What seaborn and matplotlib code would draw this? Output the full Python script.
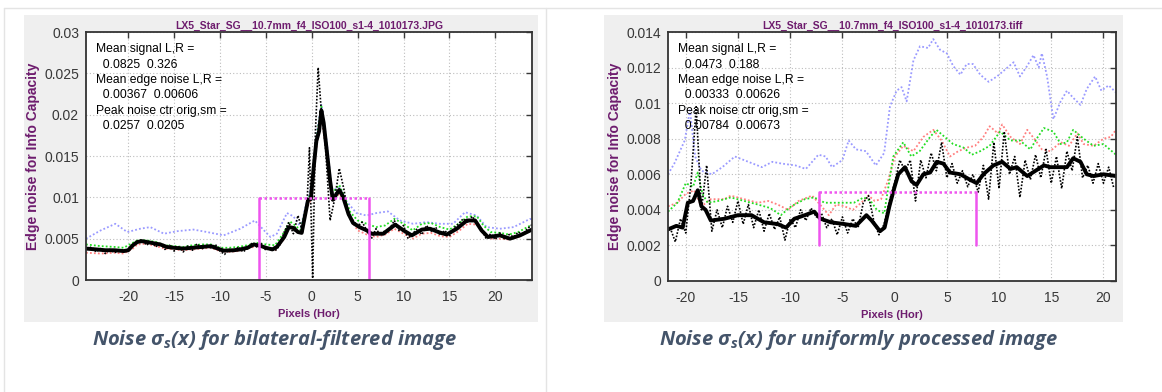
import matplotlib
matplotlib.use("Agg")
import matplotlib.pyplot as plt
from matplotlib.patches import Rectangle
from matplotlib.lines import Line2D
import seaborn as sns
import pandas as pd

# ---------------- data: left panel (bilateral-filtered JPG) ----------------
L_title = "LX5_Star_SG__10.7mm_f4_ISO100_s1-4_1010173.JPG"
L_text = ["Mean signal L,R =", "  0.0825  0.326", "Mean edge noise L,R =",
          "  0.00367  0.00606", "Peak noise ctr orig,sm =", "  0.0257  0.0205"]
L_xlim = [-24.6, 24.0]
L_ylim = [0, 0.03]
L_yticks = [0, 0.005, 0.01, 0.015, 0.02, 0.025, 0.03]
L_yticklabels = ["0", "0.005", "0.01", "0.015", "0.02", "0.025", "0.03"]
L_xticks = [-20, -15, -10, -5, 0, 5, 10, 15, 20]

L_blue_x = [-24.6, -23.0, -21.4, -20.1, -18.7, -17.6, -16.1, -14.7, -12.9, -11.4, -9.6, -7.8,
            -6.2, -5.2, -4.5, -3.8, -2.7, -2.0, -1.2, -0.6, 0.0, 0.5, 1.05, 1.6, 2.2, 3.05, 3.8,
            4.87, 5.96, 7.05, 8.3, 9.6, 11.05, 12.5, 13.96, 15.4, 16.7, 17.96, 19.05, 20.5, 22.0, 23.8, 24.0]
L_blue_y = [0.0050, 0.0060, 0.0068, 0.0058, 0.0062, 0.0064, 0.0056, 0.0059, 0.0061, 0.0058, 0.0054, 0.0062,
            0.0072, 0.0060, 0.0052, 0.0056, 0.0081, 0.0077, 0.0064, 0.0092, 0.0115, 0.0175, 0.0212, 0.0170, 0.0108, 0.0112, 0.0095,
            0.0081, 0.0078, 0.0081, 0.0083, 0.0072, 0.0068, 0.0070, 0.0068, 0.0068, 0.0082, 0.0078, 0.0064, 0.0062, 0.0064, 0.0074, 0.0073]

L_green_x = [-24.6, -23.0, -21.5, -20.5, -19.5, -19.0, -18.0, -17.0, -16.0, -15.0, -14.0, -13.0, -12.0, -11.0,
             -10.0, -9.0, -8.0, -7.0, -6.0, -5.0, -4.0, -3.0, -2.4, -1.8, -1.2, -0.6, 0.0, 0.5, 1.05, 1.6,
             2.2, 3.0, 3.6, 4.2, 5.0, 6.0, 7.0, 8.0, 9.0, 10.0, 11.0, 12.0, 13.0, 14.0, 15.0, 16.0, 17.0,
             18.0, 18.7, 19.5, 20.5, 21.5, 22.5, 23.5, 24.0]
L_green_y = [0.0043, 0.0041, 0.0040, 0.0039, 0.0045, 0.0048, 0.0048, 0.0046, 0.0042, 0.0041, 0.0040, 0.0042, 0.0043, 0.0043,
             0.0039, 0.0039, 0.0040, 0.0042, 0.0045, 0.0043, 0.0042, 0.0058, 0.0071, 0.0066, 0.0060, 0.0090, 0.0110, 0.0170, 0.0210, 0.0165,
             0.0105, 0.0115, 0.0100, 0.0082, 0.0072, 0.0068, 0.0064, 0.0066, 0.0074, 0.0068, 0.0060, 0.0068, 0.0069, 0.0064, 0.0061, 0.0068, 0.0077,
             0.0077, 0.0066, 0.0058, 0.0057, 0.0055, 0.0058, 0.0064, 0.0067]

L_red_x = L_green_x
L_red_y = [0.0033, 0.0032, 0.0033, 0.0032, 0.0038, 0.0043, 0.0044, 0.0041, 0.0038, 0.0037, 0.0036, 0.0037, 0.0038, 0.0039,
           0.0035, 0.0034, 0.0035, 0.0038, 0.0041, 0.0038, 0.0036, 0.0050, 0.0066, 0.0062, 0.0056, 0.0085, 0.0100, 0.0160, 0.0198, 0.0155,
           0.0097, 0.0104, 0.0095, 0.0074, 0.0060, 0.0055, 0.0052, 0.0055, 0.0062, 0.0056, 0.0050, 0.0056, 0.0057, 0.0053, 0.0052, 0.0059, 0.0068,
           0.0067, 0.0056, 0.0050, 0.0050, 0.0049, 0.0052, 0.0058, 0.0060]

L_raw_x = [-24.5, -24.0, -23.5, -23.0, -22.5, -22.0, -21.5, -21.0, -20.5, -20.0, -19.5, -19.0, -18.5, -18.0,
           -17.5, -17.0, -16.5, -16.0, -15.5, -15.0, -14.5, -14.0, -13.5, -13.0, -12.5, -12.0, -11.5, -11.0,
           -10.5, -10.0, -9.5, -9.0, -8.5, -8.0, -7.5, -7.0, -6.5, -6.0, -5.5, -5.0, -4.5, -4.0, -3.5, -3.0,
           -2.5, -2.0, -1.5, -1.0, -0.5, -0.25, 0.1, 0.4, 0.7, 1.0, 1.5, 2.0, 2.5, 3.0, 3.5, 4.0, 4.5, 5.0,
           5.5, 6.0, 6.5, 7.0, 7.5, 8.0, 8.5, 9.0, 9.5, 10.0, 10.5, 11.0, 11.5, 12.0, 12.5, 13.0, 13.5, 14.0,
           14.5, 15.0, 15.5, 16.0, 16.5, 17.0, 17.5, 18.0, 18.5, 19.0, 19.5, 20.0, 20.5, 21.0, 21.5, 22.0,
           22.5, 23.0, 23.5, 24.0]
L_raw_y = [0.0037, 0.0040, 0.0034, 0.0038, 0.0032, 0.0037, 0.0033, 0.0036, 0.0034, 0.0036, 0.0041, 0.0046, 0.0049, 0.0042,
           0.0047, 0.0040, 0.0045, 0.0037, 0.0042, 0.0035, 0.0040, 0.0034, 0.0041, 0.0036, 0.0044, 0.0037, 0.0042, 0.0039,
           0.0043, 0.0035, 0.0031, 0.0037, 0.0034, 0.0040, 0.0034, 0.0038, 0.0045, 0.0040, 0.0044, 0.0036, 0.0039, 0.0035, 0.0042, 0.0058,
           0.0070, 0.0056, 0.0078, 0.0058, 0.0095, 0.0160, 0.0002, 0.0180, 0.0257, 0.0210, 0.0160, 0.0072, 0.0098, 0.0135, 0.0110, 0.0078, 0.0072, 0.0065,
           0.0070, 0.0060, 0.0050, 0.0062, 0.0054, 0.0060, 0.0062, 0.0072, 0.0060, 0.0066, 0.0050, 0.0056, 0.0062, 0.0055, 0.0066, 0.0059, 0.0064, 0.0054,
           0.0060, 0.0053, 0.0063, 0.0068, 0.0074, 0.0070, 0.0077, 0.0068, 0.0062, 0.0050, 0.0056, 0.0049, 0.0057, 0.0050, 0.0055, 0.0052,
           0.0058, 0.0055, 0.0062, 0.0067]

L_smooth_x = [-24.6, -23.5, -22.5, -21.5, -20.5, -20.0, -19.5, -19.0, -18.5, -18.0, -17.5, -16.5, -15.8, -15.0,
              -14.0, -13.0, -12.0, -11.0, -10.5, -9.6, -8.5, -7.8, -7.0, -6.3, -5.5, -5.0, -4.3, -3.8, -3.0,
              -2.5, -2.0, -1.5, -1.1, -0.7, -0.4, -0.1, 0.2, 0.5, 0.8, 1.05, 1.3, 1.6, 2.0, 2.3, 2.7, 3.0,
              3.4, 4.0, 4.5, 5.2, 6.0, 6.5, 7.8, 8.5, 9.1, 10.0, 10.9, 12.0, 12.9, 13.8, 14.7, 15.8, 16.9,
              17.8, 18.5, 19.2, 20.5, 21.6, 22.7, 24.0]
L_smooth_y = [0.0038, 0.0037, 0.0036, 0.0036, 0.0035, 0.0036, 0.0042, 0.0046, 0.0047, 0.0046, 0.0045, 0.0043, 0.0040, 0.0039,
              0.0038, 0.0039, 0.0040, 0.0041, 0.0039, 0.00355, 0.0036, 0.0037, 0.0039, 0.0043, 0.0041, 0.0039, 0.0037, 0.0040, 0.0052,
              0.0064, 0.0063, 0.0058, 0.0057, 0.0080, 0.0097, 0.0098, 0.0135, 0.0168, 0.0180, 0.0205, 0.0190, 0.0160, 0.0120, 0.0097, 0.0104, 0.0109,
              0.0101, 0.0080, 0.0069, 0.0064, 0.0060, 0.0056, 0.0056, 0.0062, 0.0067, 0.0060, 0.0054, 0.0061, 0.0062, 0.0058, 0.0055, 0.0062, 0.0072,
              0.0072, 0.0060, 0.0052, 0.0054, 0.0050, 0.0054, 0.0061]

L_box_x = [-5.8, 6.2]
L_box_y = [0, 0.0099]

# ---------------- data: right panel (uniformly processed TIFF) ----------------
R_title = "LX5_Star_SG__10.7mm_f4_ISO100_s1-4_1010173.tiff"
R_text = ["Mean signal L,R =", "  0.0473  0.188", "Mean edge noise L,R =",
          "  0.00333  0.00626", "Peak noise ctr orig,sm =", "  0.00784  0.00673"]
R_xlim = [-21.7, 21.2]
R_ylim = [0, 0.014]
R_yticks = [0, 0.002, 0.004, 0.006, 0.008, 0.01, 0.012, 0.014]
R_yticklabels = ["0", "0.002", "0.004", "0.006", "0.008", "0.01", "0.012", "0.014"]
R_xticks = [-20, -15, -10, -5, 0, 5, 10, 15, 20]

R_blue_x = [-21.7, -21.1, -20.1, -19.6, -19.1, -18.5, -17.5, -16.5, -15.3, -14.0, -12.7, -11.7, -10.8, -9.5,
            -8.5, -7.3, -6.6, -6.0, -5.0, -4.4, -3.7, -2.75, -1.8, -1.0, -0.45, 0.19, 0.67, 1.15, 1.8, 2.43,
            3.2, 3.7, 4.35, 5.0, 5.6, 6.3, 6.9, 7.5, 8.2, 9.0, 9.8, 10.6, 11.4, 12.0, 12.7, 13.3, 13.8, 14.1,
            14.6, 15.2, 15.9, 16.5, 17.1, 17.8, 18.4, 19.2, 19.8, 20.5, 21.2]
R_blue_y = [0.0060, 0.0066, 0.0079, 0.0096, 0.0070, 0.0062, 0.0060, 0.0064, 0.0070, 0.0067, 0.0064, 0.0067, 0.0066, 0.0065,
            0.0063, 0.0071, 0.0070, 0.0064, 0.0068, 0.0079, 0.0074, 0.0073, 0.0065, 0.0072, 0.0098, 0.0107, 0.0109, 0.0101, 0.0124, 0.0132,
            0.0131, 0.0136, 0.0130, 0.0128, 0.0121, 0.0116, 0.0122, 0.0122, 0.0116, 0.0112, 0.0115, 0.0119, 0.0123, 0.0115, 0.0121, 0.0127, 0.0120, 0.0128,
            0.0115, 0.0091, 0.0101, 0.0107, 0.0103, 0.0099, 0.0108, 0.0115, 0.0107, 0.0110, 0.0106]

R_green_x = [-21.7, -20.8, -20.0, -19.3, -18.85, -18.4, -17.9, -16.9, -15.7, -14.4, -13.1, -11.9, -10.9, -9.9,
             -8.6, -7.7, -6.7, -5.8, -4.8, -3.9, -2.95, -2.3, -1.7, -1.0, -0.13, 0.83, 1.6, 2.4, 3.4, 4.0,
             4.8, 5.6, 6.6, 7.4, 8.2, 9.1, 10.1, 11.1, 12.0, 13.0, 13.6, 14.3, 15.2, 15.9, 16.5, 17.1, 18.1,
             19.05, 20.0, 21.2]
R_green_y = [0.0039, 0.0044, 0.0055, 0.0053, 0.0061, 0.0049, 0.0044, 0.0045, 0.0047, 0.0045, 0.0043, 0.0041, 0.0037, 0.0042,
             0.0046, 0.0047, 0.0044, 0.0044, 0.0044, 0.0044, 0.0047, 0.0045, 0.0040, 0.0038, 0.0070, 0.0078, 0.0070, 0.0073, 0.0081, 0.0085,
             0.0081, 0.0077, 0.0075, 0.0071, 0.0073, 0.0076, 0.0084, 0.0079, 0.0079, 0.0074, 0.0080, 0.0086, 0.0084, 0.0077, 0.0078, 0.0085, 0.0080,
             0.0076, 0.0077, 0.0071]

R_red_x = [-21.7, -20.8, -20.0, -19.2, -18.5, -17.6, -16.3, -15.7, -14.4, -13.1, -12.1, -11.2, -10.2, -9.2,
           -7.9, -7.0, -6.3, -5.6, -4.8, -4.0, -3.2, -2.5, -1.9, -1.3, -0.6, 0.03, 0.83, 1.8, 2.75, 3.7,
           4.5, 5.3, 6.1, 6.9, 7.7, 8.5, 9.1, 9.9, 10.3, 11.1, 12.0, 12.7, 13.5, 14.1, 14.9, 15.9, 16.7,
           17.5, 18.1, 19.05, 20.0, 20.7, 21.2]
R_red_y = [0.0042, 0.0044, 0.0049, 0.0051, 0.0042, 0.0046, 0.0046, 0.0048, 0.0046, 0.0044, 0.0045, 0.0043, 0.0040, 0.0045,
           0.0048, 0.0042, 0.0037, 0.0043, 0.0042, 0.0040, 0.0044, 0.0048, 0.0045, 0.0046, 0.0057, 0.0070, 0.0076, 0.0073, 0.0081, 0.0085,
           0.0079, 0.0070, 0.0073, 0.0075, 0.0076, 0.0081, 0.0087, 0.0083, 0.0088, 0.0081, 0.0077, 0.0085, 0.0079, 0.0074, 0.0073, 0.0078, 0.0076,
           0.0083, 0.0077, 0.0076, 0.0080, 0.0081, 0.0085]

R_raw_x = [-21.5, -21.0, -20.5, -20.0, -19.5, -19.0, -18.5, -18.0, -17.5, -17.0, -16.5, -16.0, -15.5, -15.0,
           -14.5, -14.0, -13.5, -13.0, -12.5, -12.0, -11.5, -11.0, -10.5, -10.0, -9.5, -9.0, -8.5, -8.0,
           -7.5, -7.0, -6.5, -6.0, -5.5, -5.0, -4.5, -4.0, -3.5, -3.0, -2.5, -2.0, -1.5, -1.0, -0.5, 0.0,
           0.5, 1.0, 1.5, 2.0, 2.5, 3.0, 3.5, 4.0, 4.5, 5.0, 5.5, 6.0, 6.5, 7.0, 7.5, 8.0, 8.5, 9.0,
           9.5, 10.0, 10.5, 11.0, 11.5, 12.0, 12.5, 13.0, 13.5, 14.0, 14.5, 15.0, 15.5, 16.0, 16.5, 17.0,
           17.5, 18.0, 18.5, 19.0, 19.5, 20.0, 20.5, 21.0]
R_raw_y = [0.0030, 0.0022, 0.0035, 0.0027, 0.0055, 0.0098, 0.0040, 0.0065, 0.0028, 0.0040, 0.0030, 0.0042, 0.0033, 0.0045,
           0.0032, 0.0043, 0.0030, 0.0040, 0.0028, 0.0038, 0.0029, 0.0036, 0.0023, 0.0035, 0.0030, 0.0040, 0.0034, 0.0041,
           0.0036, 0.0038, 0.0030, 0.0035, 0.0026, 0.0036, 0.0027, 0.0035, 0.0030, 0.0044, 0.0048, 0.0034, 0.0026, 0.0032, 0.0045, 0.0055,
           0.0068, 0.0062, 0.0068, 0.0045, 0.0068, 0.0058, 0.0072, 0.0062, 0.0078, 0.0058, 0.0066, 0.0055, 0.0062, 0.0053, 0.0060, 0.0050, 0.0065, 0.0046,
           0.0078, 0.0052, 0.0084, 0.0060, 0.0070, 0.0047, 0.0068, 0.0057, 0.0071, 0.0058, 0.0074, 0.0055, 0.0070, 0.0052, 0.0073, 0.0062,
           0.0081, 0.0058, 0.0065, 0.0055, 0.0066, 0.0055, 0.0064, 0.0052]

R_smooth_x = [-21.7, -20.9, -20.3, -19.8, -19.3, -18.85, -18.5, -18.1, -17.6, -16.3, -15.0, -13.7, -12.5, -11.2,
              -10.4, -9.6, -8.6, -7.7, -7.1, -6.1, -4.8, -3.7, -2.7, -2.2, -1.4, -0.96, -0.5, 0.0, 0.35, 0.99,
              1.63, 2.1, 2.75, 3.4, 4.03, 4.67, 5.3, 6.3, 7.2, 7.86, 8.5, 9.46, 10.3, 11.1, 11.7, 12.7, 13.5,
              14.3, 14.9, 15.7, 16.5, 17.1, 17.8, 18.4, 19.05, 20.0, 21.2]
R_smooth_y = [0.0029, 0.0031, 0.0030, 0.0044, 0.0045, 0.0051, 0.0042, 0.0040, 0.0034, 0.0035, 0.0037, 0.0037, 0.0033, 0.0032,
              0.0030, 0.0035, 0.0037, 0.0039, 0.0035, 0.0033, 0.0032, 0.0031, 0.0037, 0.0034, 0.0028, 0.0030, 0.0042, 0.0053, 0.0060, 0.0064,
              0.0056, 0.0054, 0.0060, 0.0061, 0.0067, 0.0066, 0.0061, 0.0060, 0.0057, 0.0055, 0.0060, 0.0065, 0.0067, 0.0063, 0.0064, 0.0059, 0.0062,
              0.0065, 0.0064, 0.0064, 0.0064, 0.0069, 0.0067, 0.0060, 0.0059, 0.0060, 0.0059]

R_box_x = [-7.2, 7.8]
R_box_y = [0.002, 0.005]

captions = ["Noise σ$_s$(x) for bilateral-filtered image",
            "Noise σ$_s$(x) for uniformly processed image"]

# ---------------- styling ----------------
sns.set_style("white")
plt.rcParams["font.family"] = ["Liberation Sans", "DejaVu Sans"]
plt.rcParams["mathtext.fontset"] = "custom"
plt.rcParams["mathtext.it"] = "Open Sans:italic:bold"
plt.rcParams["mathtext.rm"] = "Open Sans:italic:bold"

PURPLE = "#6e1c6e"
TICKC = "#383838"
BLUE = "#9a9aff"
GREEN = "#22dd22"
RED = "#ff7f7f"
MAG = "#ee55ee"
PANEL = "#efefef"

W, H = 1162, 392
fig = plt.figure(figsize=(W / 100, H / 100), dpi=100)
fig.patch.set_facecolor("white")

def fx(px):
    return px / W

def fy(py):
    return 1 - py / H

# outer table-like frame lines
for (x0, y0, x1, y1) in [(4, 8, 1162, 8), (4, 8, 4, 392), (546, 8, 546, 392)]:
    fig.add_artist(Line2D([fx(x0), fx(x1)], [fy(y0), fy(y1)], color="#e4e4e4", lw=1.0))

# gray panels
for (x0, x1) in [(24, 538), (604, 1123)]:
    fig.add_artist(Rectangle((fx(x0), fy(322)), fx(x1) - fx(x0), fy(15) - fy(322),
                             facecolor=PANEL, edgecolor="none", zorder=0))

panels = [
    dict(pos=(86, 32, 532, 280), title=L_title, text=L_text, xlim=L_xlim, ylim=L_ylim,
         yt=L_yticks, ytl=L_yticklabels, xt=L_xticks,
         blue=(L_blue_x, L_blue_y), green=(L_green_x, L_green_y), red=(L_red_x, L_red_y),
         raw=(L_raw_x, L_raw_y), smooth=(L_smooth_x, L_smooth_y), bx=L_box_x, by=L_box_y,
         cap=captions[0], capx=275),
    dict(pos=(668, 32, 1116, 281), title=R_title, text=R_text, xlim=R_xlim, ylim=R_ylim,
         yt=R_yticks, ytl=R_yticklabels, xt=R_xticks,
         blue=(R_blue_x, R_blue_y), green=(R_green_x, R_green_y), red=(R_red_x, R_red_y),
         raw=(R_raw_x, R_raw_y), smooth=(R_smooth_x, R_smooth_y), bx=R_box_x, by=R_box_y,
         cap=captions[1], capx=859),
]

for p in panels:
    x0, y0, x1, y1 = p["pos"]
    ax = fig.add_axes([fx(x0), fy(y1), fx(x1) - fx(x0), fy(y0) - fy(y1)])
    ax.set_facecolor("white")

    def line(xs, ys, **kw):
        df = pd.DataFrame({"x": xs, "y": ys})
        sns.lineplot(data=df, x="x", y="y", ax=ax, sort=False, estimator=None, legend=False, **kw)

    line(*p["blue"], color=BLUE, lw=1.3, linestyle=(0, (1, 1.2)))
    line(*p["red"], color=RED, lw=1.3, linestyle=(0, (1, 1.2)))
    line(*p["green"], color=GREEN, lw=1.3, linestyle=(0, (1, 1.2)))
    line(*p["raw"], color="black", lw=1.2, linestyle=(0, (1, 1)))
    line(*p["smooth"], color="black", lw=2.8)

    bx, by = p["bx"], p["by"]
    line([bx[0], bx[1]], [by[1], by[1]], color=MAG, lw=1.8, linestyle=(0, (1, 1)))
    line([bx[0], bx[0]], [by[0], by[1]], color=MAG, lw=1.8)
    line([bx[1], bx[1]], [by[0], by[1]], color=MAG, lw=1.8)

    ax.set_xlim(p["xlim"])
    ax.set_ylim(p["ylim"])
    ax.set_xticks(p["xt"])
    ax.set_xticklabels([str(v) for v in p["xt"]])
    ax.set_yticks(p["yt"])
    ax.set_yticklabels(p["ytl"])
    ax.grid(True, color="#bdbdbd", lw=0.8, linestyle=(0, (1, 2)))
    ax.tick_params(direction="in", length=4, width=1, colors=TICKC, labelsize=10,
                   top=True, right=True)
    ax.tick_params(axis="x", pad=7)
    ax.tick_params(axis="y", pad=5)
    for s in ax.spines.values():
        s.set_color("#333333")
        s.set_linewidth(1.3)

    ax.set_title(p["title"], fontsize=7.5, fontweight="bold", color=PURPLE, pad=2)
    ax.set_xlabel("Pixels (Hor)", fontsize=8, fontweight="bold", color=PURPLE, labelpad=4)
    ax.set_ylabel("Edge noise for Info Capacity", fontsize=10, fontweight="bold", color=PURPLE, labelpad=3)

    ax.text(0.022, 0.955, "\n".join(p["text"]), transform=ax.transAxes, fontsize=8.7,
            va="top", ha="left", color="black", linespacing=1.38, zorder=10)

    fig.text(fx(p["capx"]), fy(340), p["cap"], ha="center", va="center", fontsize=14.5,
             fontweight="bold", fontstyle="italic", color="#44546a", family=["Open Sans", "DejaVu Sans"])

fig.savefig("out.png", dpi=100, facecolor="white")
